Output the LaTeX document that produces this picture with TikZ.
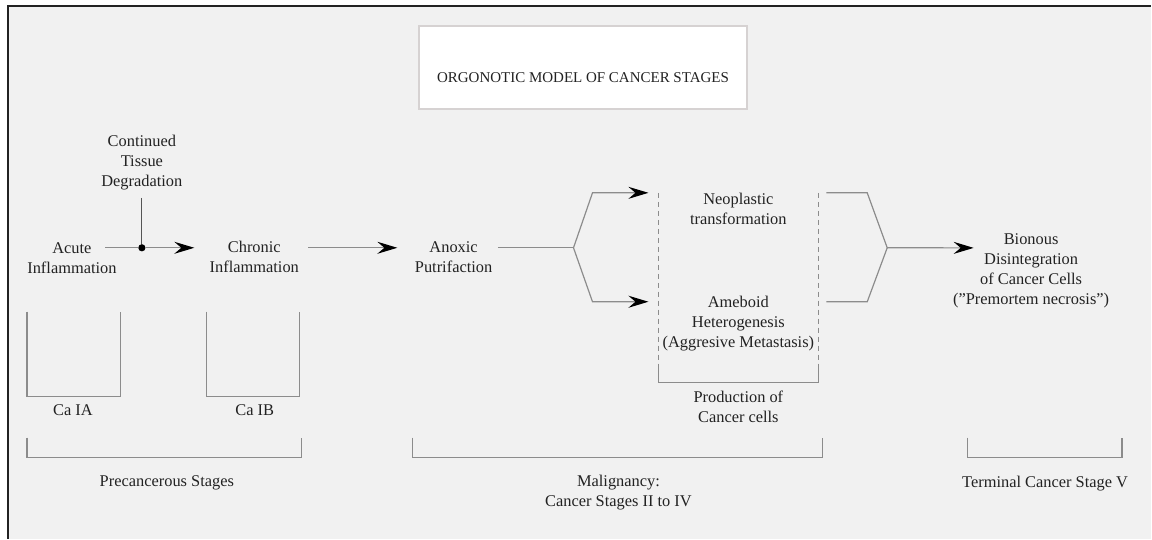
\documentclass[tikz,border=0pt]{standalone}
\usepackage{fontspec}
\setmainfont{Liberation Serif}
\usetikzlibrary{arrows.meta}
\definecolor{paper}{RGB}{241,241,241}
\definecolor{ink}{RGB}{34,34,34}
\definecolor{wire}{RGB}{140,140,140}
\definecolor{stem}{RGB}{85,85,85}
\definecolor{boxedge}{RGB}{214,210,210}

\begin{document}
\begin{tikzpicture}[x=0.5pt,y=-0.5pt,
            every node/.style={text=ink,inner sep=0pt,
                    font=\fontsize{8.2}{10}\selectfont},
            stage/.style={align=center},
            titlebox/.style={rectangle,draw=boxedge,line width=1pt,fill=white,
                    minimum width=164.5pt,text height=28.5pt,text depth=13pt,
                    font=\fontsize{7.5}{9}\selectfont},
            joint/.style={circle,fill=black,minimum size=3.6pt},
            wireline/.style={draw=wire,line width=0.6pt},
            flow/.style={wireline,-{Stealth[length=10pt,width=6pt,inset=3.5pt,color=black]}},
            bracket/.style={draw=wire,line width=0.6pt},
        ]

        % Page and frame
        \fill[white] (0,0) rectangle (1152,539);
        \fill[paper] (8.5,6.5) rectangle (1152,539);
        \draw[ink,line width=1pt] (8.5,539) -- (8.5,6.5) -- (1152,6.5);

        % Title
        \node[titlebox] (title) at (583.5,67.5) {ORGONOTIC MODEL OF CANCER STAGES};

        % Stages
        \node[stage] (acute) at (72,258) {Acute\\Inflammation};
        \node[stage] (tissue) at (142,162.7) {Continued\\Tissue\\Degradation};
        \node[stage] (chronic) at (254.5,257.4) {Chronic\\Inflammation};
        \node[stage] (anoxic) at (454,257.5) {Anoxic\\Putrifaction};
        \node[stage] (neo) at (739,209.4) {Neoplastic\\transformation};
        \node[stage] (ameboid) at (739,323.9) {Ameboid\\Heterogenesis\\(Aggresive Metastasis)};
        \node[stage] (production) at (739,407.4) {Production of\\Cancer cells};
        \node[stage] (bionous) at (1032,270.9) {Bionous\\Disintegration\\of Cancer Cells\\(''Premortem necrosis'')};

        % Stage labels
        \node (caia) at (73,410.6) {Ca IA};
        \node (caib) at (255,410.6) {Ca IB};
        \node (precancer) at (167,483.3) {Precancerous Stages};
        \node[stage] (malignancy) at (619,493.2) {Malignancy:\\Cancer Stages II to IV};
        \node (terminal) at (1046,484.2) {Terminal Cancer Stage V};

        % Junctions
        \node[joint] (join) at (142,248) {};
        \coordinate (split) at (574,248);
        \coordinate (upfork) at (593,193);
        \coordinate (lowfork) at (593,302);
        \coordinate (neo-in) at (649,193);
        \coordinate (amb-in) at (649,302);
        \coordinate (neo-out) at (827,193);
        \coordinate (amb-out) at (827,302);
        \coordinate (upjoin) at (868,193);
        \coordinate (lowjoin) at (868,302);
        \coordinate (merge) at (888,248);

        % Precancerous flow
        \draw[wireline] ([xshift=-5.8pt,yshift=5pt]acute.east) -- (join);
        \draw[flow] (join) -- ([xshift=-7.5pt,yshift=4.7pt]chronic.west);
        \draw[draw=stem,line width=0.6pt] ([yshift=-3.7pt]tissue.south) -- (join);
        \draw[flow] ([xshift=4.4pt,yshift=4.7pt]chronic.east) -- ([xshift=-8.6pt,yshift=4.75pt]anoxic.west);

        % Fork into the two malignant paths
        \draw[wireline] ([xshift=2.6pt,yshift=4.75pt]anoxic.east) -- (split);
        \draw[flow] (split) -- (upfork) -- (neo-in);
        \draw[flow] (split) -- (lowfork) -- (amb-in);

        % Production of cancer cells
        \draw[wireline,dash pattern=on 2.5pt off 2pt] (659,193) -- (659,366);
        \draw[wireline,dash pattern=on 2.5pt off 2pt] (819,193) -- (819,366);
        \draw[bracket] (659,366) -- (659,383) -- (819,383) -- (819,366);

        % Merge into terminal stage
        \draw[wireline] (neo-out) -- (upjoin) -- (merge);
        \draw[wireline] (amb-out) -- (lowjoin) -- (merge);
        \draw[flow] (merge) -- ([xshift=10.5pt,yshift=11.4pt]bionous.west);

        % Brackets
        \foreach \l/\r in {27/121,207/300} {
                \draw[bracket] (\l,312) -- (\l,397) -- (\r,397) -- (\r,312);
            }
        \foreach \l/\r in {27/302,413/823,968/1123} {
                \draw[bracket] (\l,438) -- (\l,458) -- (\r,458) -- (\r,438);
            }

    \end{tikzpicture}
\end{document}
